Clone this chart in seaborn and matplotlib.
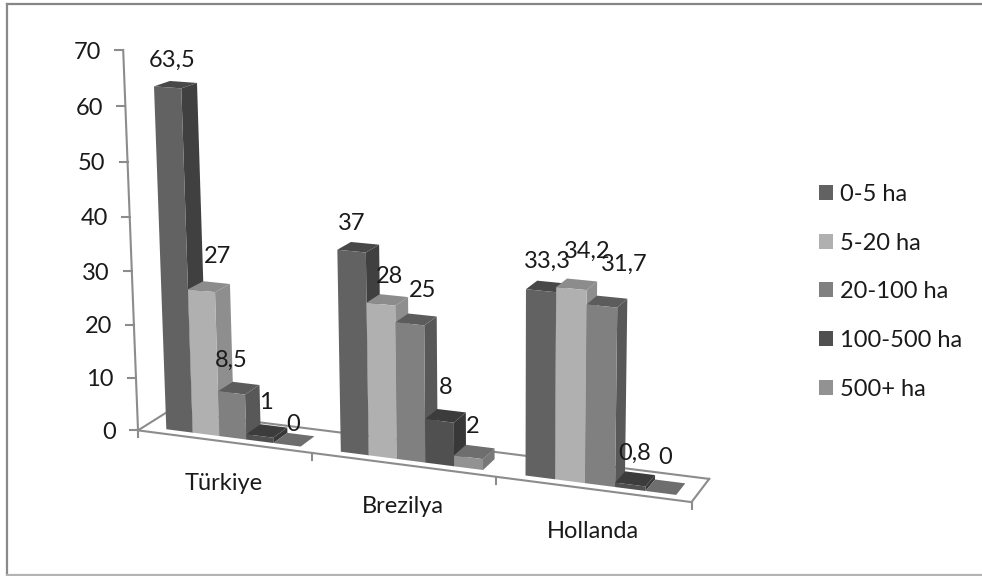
import numpy as np
import pandas as pd
import seaborn as sns
import matplotlib
matplotlib.use("Agg")
import matplotlib.pyplot as plt
from matplotlib.patches import Polygon
from matplotlib.lines import Line2D
from matplotlib.transforms import Transform, Affine2D

# data
ulkeler = ["Türkiye", "Brezilya", "Hollanda"]
siniflar = ["0-5 ha", "5-20 ha", "20-100 ha", "100-500 ha", "500+ ha"]
turkiye = [63.5, 27, 8.5, 1, 0]
brezilya = [37, 28, 25, 8, 2]
hollanda = [33.3, 34.2, 31.7, 0.8, 0]
y_ticks = [0, 10, 20, 30, 40, 50, 60, 70]

# colours: front, side, top
on_renk = ["#626262", "#b0b0b0", "#808080", "#505050", "#929292"]
yan_renk = ["#404040", "#8e8e8e", "#585858", "#383838", "#787878"]
ust_renk = ["#484848", "#8c8c8c", "#5c5c5c", "#3c3c3c", "#6e6e6e"]
cizgi = "#8c8c8c"
yazi_renk = "#1a1a1a"
punto = 17

W, H = 982, 576

# box corners (x, value, depth) -> picture pixels, used to fit the perspective
kutu = [
    (0, 0, 0, 140, 430), (0, 70, 0, 123, 49),
    (3, 0, 0, 692, 503), (3, 70, 0, 700, 90),
    (1, 0, 0, 311, 453), (2, 0, 0, 495, 477),
    (0, 0, 1, 168, 412), (0, 70, 1, 156, 41),
    (3, 0, 1, 710, 477), (3, 70, 1, 718, 78),
]
A = []
b = []
for x, y, z, u, v in kutu:
    A.append([x, y, z, 1, 0, 0, 0, 0, -u * x, -u * y, -u * z])
    A.append([0, 0, 0, 0, x, y, z, 1, -v * x, -v * y, -v * z])
    b += [u, v]
p = np.linalg.lstsq(np.array(A, float), np.array(b, float), rcond=None)[0]
P = np.append(p, 1).reshape(3, 4)


def proje(x, y, z):
    q = P @ np.array([x, y, z, 1.0])
    return q[0] / q[2], q[1] / q[2]


kaydir = 0.5175  # category position -> box x


class Perspektif(Transform):
    input_dims = 2
    output_dims = 2
    is_affine = False

    def __init__(self, z):
        super().__init__()
        self.z = z

    def transform_non_affine(self, values):
        v = np.asarray(values, float)
        q = np.c_[v[:, 0] + kaydir, v[:, 1], np.full(len(v), self.z), np.ones(len(v))] @ P.T
        return q[:, :2] / q[:, 2:]


flip = Affine2D().scale(1, -1).translate(0, H)
z_on, z_arka = 0.2, 0.7

# label nudges in pixels, per class (rows) and country (columns)
etiket_dx = [[-11, -13, -5], [1, -4, 5], [-15, 0, 12], [-8, -6, -5], [-8, -8, -5]]
etiket_dy = [[-2, 0, -1], [-6, 1, -9], [-3, -5, -13], [-3, -3, 0], [10, 0, -4]]

df = pd.DataFrame({
    "ulke": np.repeat(ulkeler, len(siniflar)),
    "sinif": siniflar * len(ulkeler),
    "oran": turkiye + brezilya + hollanda,
})

fig = plt.figure(figsize=(W / 100, H / 100), dpi=100)
ax = fig.add_axes([0, 0, 1, 1])
sns.barplot(data=df, x="ulke", y="oran", hue="sinif", palette=on_renk,
            saturation=1, width=0.775, gap=0, errorbar=None, ax=ax)
ax.axis("off")

sns.move_legend(ax, "upper left", bbox_to_anchor=(819 / W, 1 - 184 / H), frameon=False,
                title=None, fontsize=punto, labelspacing=1.17, handlelength=0.6,
                handleheight=0.6, handletextpad=0.3, borderpad=0, borderaxespad=0)


def cizgi_ciz(a, b, lw=1.5):
    ax.add_line(Line2D([a[0], b[0]], [a[1], b[1]], color=cizgi, lw=lw, transform=flip, zorder=2))


def yazi(x, y, s, **kw):
    ax.text(x, y, s, transform=flip, fontsize=punto, color=yazi_renk, family="Lato", va="center", **kw)


# floor and axis
cizgi_ciz(proje(0, 0, 0), proje(3, 0, 0))
cizgi_ciz(proje(0, 0, 1), proje(3, 0, 1))
cizgi_ciz(proje(0, 0, 0), proje(0, 0, 1))
cizgi_ciz(proje(3, 0, 0), proje(3, 0, 1))
cizgi_ciz(proje(0, 0, 0), proje(0, 70, 0))
for t in y_ticks:
    u, v = proje(0, t, 0)
    cizgi_ciz((u - 8, v), (u, v))
    yazi(u - 22, v + 2, str(t), ha="right")
for i in range(4):
    u, v = proje(i, 0, 0)
    cizgi_ciz((u, v), (u, v + 7))
for i, ad in enumerate(ulkeler):
    u, v = proje(i + 0.5, 0, 0)
    yazi(u, v + 42, ad, ha="center")

# bars, drawn left to right so the right neighbour covers the side face
T = Perspektif(z_on) + flip
for s, bars in enumerate(ax.containers):
    for c, bar in enumerate(bars):
        x0 = bar.get_x() + kaydir
        x1 = x0 + bar.get_width()
        h = bar.get_height()
        sira = 10 + 3 * (c * len(siniflar) + s)
        bar.set_transform(T)
        bar.set_clip_on(False)
        bar.set_edgecolor("none")
        bar.set_zorder(sira + 1)
        yan = [proje(x1, 0, z_on), proje(x1, h, z_on), proje(x1, h, z_arka), proje(x1, 0, z_arka)]
        ust = [proje(x0, h, z_on), proje(x1, h, z_on), proje(x1, h, z_arka), proje(x0, h, z_arka)]
        ax.add_patch(Polygon(yan, closed=True, fc=yan_renk[s], ec="none", transform=flip, zorder=sira))
        ax.add_patch(Polygon(ust, closed=True, fc=ust_renk[s], ec="none", transform=flip, zorder=sira))
        u, v = proje((x0 + x1) / 2, h, z_arka)
        etiket = f"{h:g}".replace(".", ",")
        ax.text(u + etiket_dx[s][c], v - 20 + etiket_dy[s][c], etiket, transform=flip, fontsize=punto,
                color=yazi_renk, family="Lato", ha="center", va="center", zorder=200)

for t in ax.get_legend().get_texts():
    t.set_family("Lato")
    t.set_color(yazi_renk)

# chart frame
for a, b, renk in [((7, 4), (982, 4), "#868686"), ((7, 4), (7, 575), "#8a8a8a"), ((7, 575), (982, 575), "#b4b4b4")]:
    ax.add_line(Line2D([a[0], b[0]], [a[1], b[1]], color=renk, lw=1.6, transform=flip, clip_on=False))

fig.savefig("out.png", dpi=100, facecolor="white")
